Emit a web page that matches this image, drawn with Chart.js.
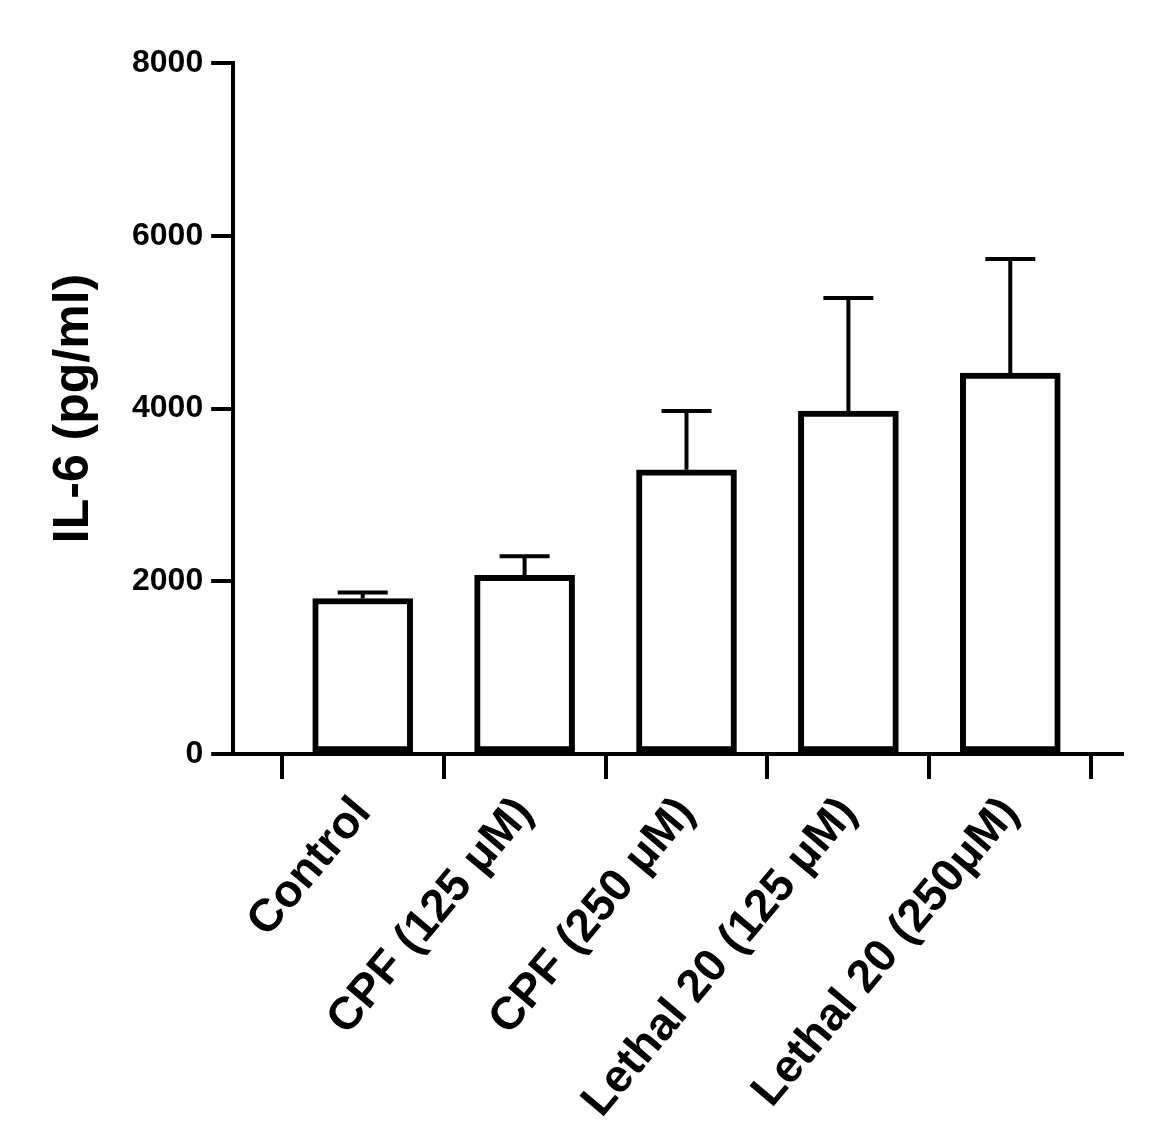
<!DOCTYPE html>
<html>
<head>
<script src="https://cdn.jsdelivr.net/npm/chart.js@4"></script>
<style>body{margin:0;background:#fff}#wrap{width:1162px;height:1146px}</style>
</head>
<body>
<div id="wrap"><canvas id="c"></canvas></div>
<script>
const categories = ["Control", "CPF (125 \u03bcM)", "CPF (250 \u03bcM)", "Lethal 20 (125 \u03bcM)", "Lethal 20 (250\u03bcM)"];
const means = [1800, 2070, 3290, 3970, 4410];
const errors = [70, 220, 680, 1310, 1320];
const yTicks = [0, 2000, 4000, 6000, 8000];

const errorBars = {
  id: "errorBars",
  afterDatasetsDraw(chart) {
    const ctx = chart.ctx, x = chart.scales.x, y = chart.scales.y;
    ctx.save();
    ctx.strokeStyle = "#000";
    ctx.lineWidth = 4;
    means.forEach((m, i) => {
      const px = x.getPixelForValue(i + 1);
      const top = y.getPixelForValue(m + errors[i]);
      ctx.beginPath();
      ctx.moveTo(px, y.getPixelForValue(m));
      ctx.lineTo(px, top);
      ctx.moveTo(px - 25, top);
      ctx.lineTo(px + 25, top);
      ctx.stroke();
    });
    ctx.restore();
  }
};

new Chart("c", {
  type: "bar",
  data: {
    datasets: [{
      data: means.map((v, i) => ({x: i + 1, y: v})),
      backgroundColor: "#fff",
      borderColor: "#000",
      borderWidth: 6,
      borderSkipped: false,
      barThickness: 100
    }]
  },
  plugins: [errorBars],
  options: {
    responsive: true,
    maintainAspectRatio: false,
    animation: false,
    layout: {padding: {top: 63, right: 40, left: 40, bottom: 10}},
    plugins: {legend: {display: false}, tooltip: {enabled: false}},
    scales: {
      x: {
        type: "linear",
        offset: false,
        min: 0.2, max: 5.69,
        afterBuildTicks: s => { s.ticks = categories.map((c, i) => ({value: i + 1})); },
        ticks: {
          stepSize: 1,
          autoSkip: false,
          callback: v => categories[Math.round(v) - 1],
          color: "#000",
          font: {family: "Arial, 'Liberation Sans'", size: 46, weight: "bold"},
          minRotation: 50, maxRotation: 50, padding: 8
        },
        grid: {drawOnChartArea: false, drawTicks: true, tickLength: 25, lineWidth: 4, color: "#000"},
        border: {width: 4, color: "#000"}
      },
      y: {
        min: 0, max: 8000,
        afterBuildTicks: s => { s.ticks = yTicks.map(v => ({value: v})); },
        ticks: {
          callback: v => String(v),
          color: "#000",
          font: {family: "Arial, 'Liberation Sans'", size: 32, weight: "bold"},
          padding: 8
        },
        grid: {drawOnChartArea: false, drawTicks: true, tickLength: 22, lineWidth: 4, color: "#000"},
        border: {width: 4, color: "#000"},
        title: {
          display: true, text: "IL-6 (pg/ml)", color: "#000",
          font: {family: "Arial, 'Liberation Sans'", size: 50, weight: "bold"},
          padding: {bottom: 20}
        }
      }
    }
  }
});
</script>
</body>
</html>
